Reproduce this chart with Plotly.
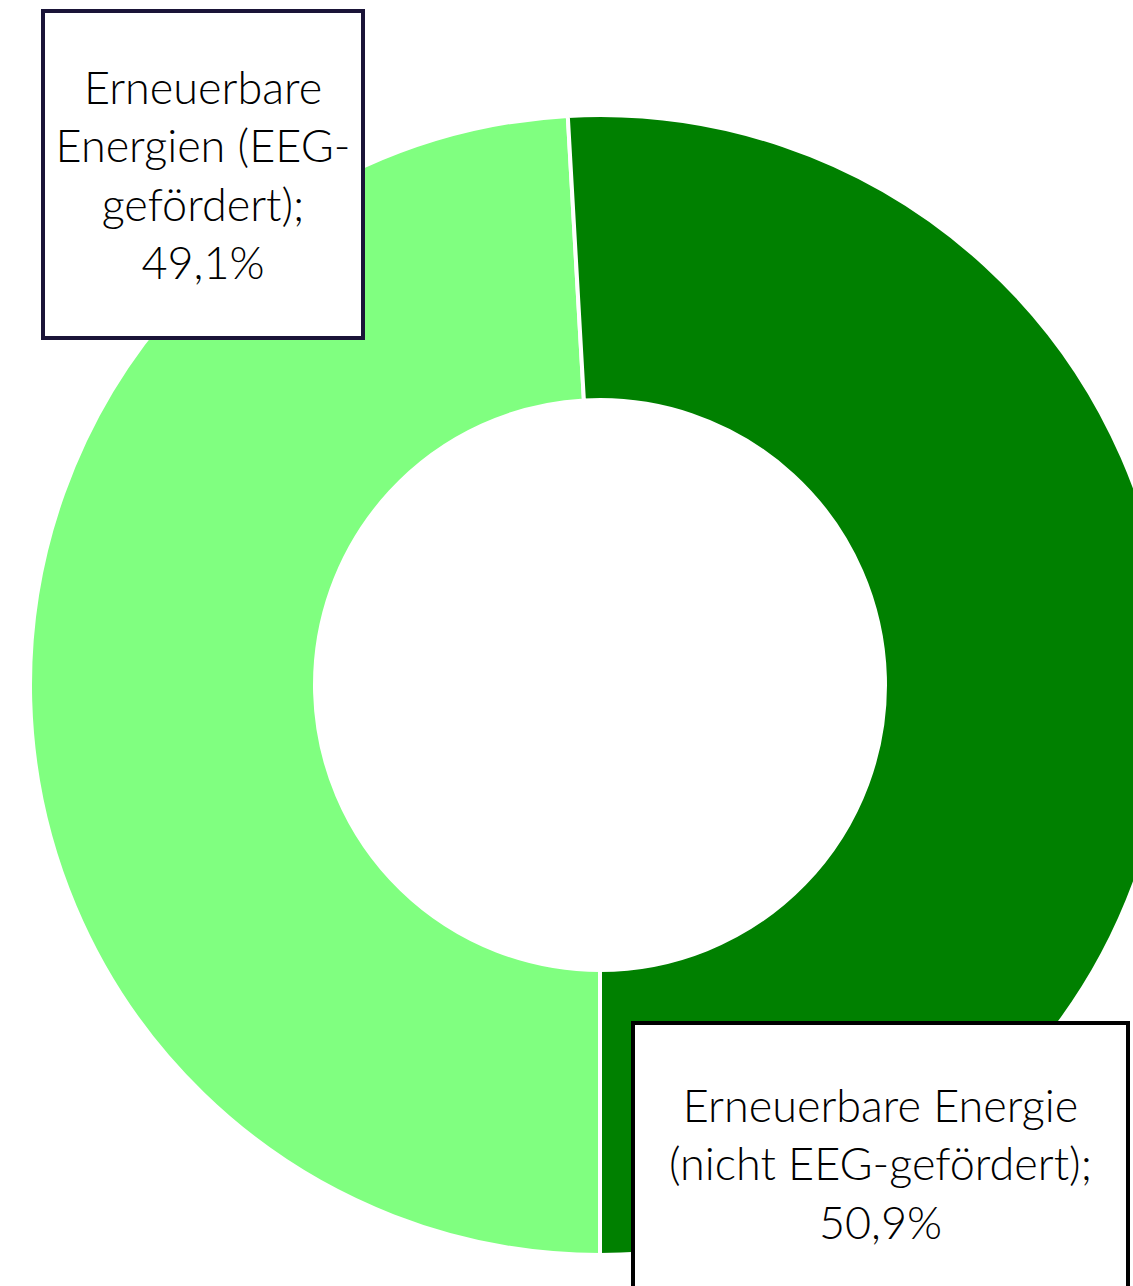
import plotly.graph_objects as go

labels = ["Erneuerbare Energien (EEG-gefördert)", "Erneuerbare Energie (nicht EEG-gefördert)"]
values = [49.1, 50.9]
colors = ["#80FF80", "#008000"]
box_texts = ["Erneuerbare<br>Energien (EEG-<br>gefördert);<br>49,1%",
             "Erneuerbare Energie<br>(nicht EEG-gefördert);<br>50,9%"]

W, H = 1200, 1300
off = 0  # body margin removed below
cx, cy, r = 600 - off, 685 - off, 570

fig = go.Figure(go.Pie(
    labels=labels, values=values, hole=0.5, sort=False,
    direction="clockwise", rotation=180,
    marker=dict(colors=colors, line=dict(color="white", width=4)),
    textinfo="none", hoverinfo="label+percent", showlegend=False,
    domain=dict(x=[(cx - r) / W, (cx + r) / W], y=[1 - (cy + r) / H, 1 - (cy - r) / H]),
))

font = dict(family="Lato", size=45, color="#000000", weight=300)
boxes = [
    dict(cx=203, cy=174.5, w=316, h=323, border="#1a1438"),
    dict(cx=880.5, cy=1163, w=491, h=276, border="#000000"),
]
for t, b in zip(box_texts, boxes):
    fig.add_annotation(
        text=t, xref="paper", yref="paper",
        x=(b["cx"] - off) / W, y=1 - (b["cy"] - off) / H,
        xanchor="center", yanchor="middle", showarrow=False,
        width=b["w"], height=b["h"], align="center", valign="middle",
        bgcolor="white", bordercolor=b["border"], borderwidth=4, borderpad=0,
        font=font,
    )

fig.update_layout(width=W, height=H, margin=dict(l=0, r=0, t=0, b=0),
                  paper_bgcolor="white", plot_bgcolor="white")
fig.write_html(
    "out.html",
    post_script="document.body.style.margin='0';document.documentElement.style.overflow='hidden';",
)
